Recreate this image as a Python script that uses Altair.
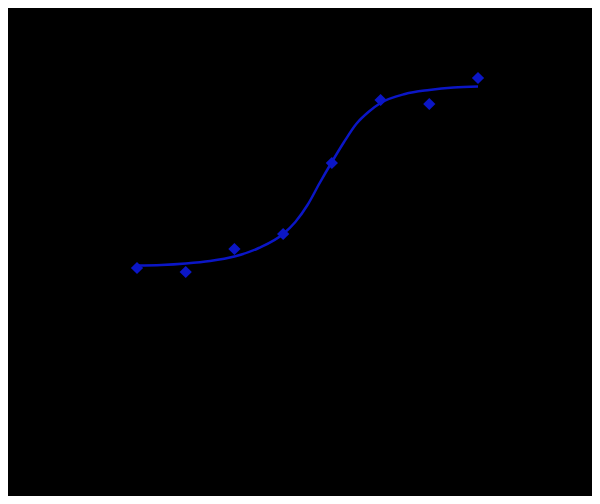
import altair as alt
import pandas as pd

# measured points (x = log concentration, y = response)
pt_x = [-9.0, -8.5, -8.0, -7.5, -7.0, -6.5, -6.0, -5.5]
pt_y = [1.14, 1.12, 1.235, 1.31, 1.665, 1.98, 1.96, 2.09]

# fitted curve
cv_x = [-9.0, -8.75, -8.5, -8.25, -8.0, -7.75, -7.5, -7.375, -7.25, -7.125,
        -7.0, -6.875, -6.75, -6.625, -6.5, -6.25, -6.0, -5.75, -5.5]
cv_y = [1.1525, 1.155, 1.1625, 1.175, 1.1975, 1.24, 1.31, 1.37, 1.455, 1.565,
        1.67, 1.77, 1.86, 1.92, 1.965, 2.01, 2.03, 2.0425, 2.0475]

pts = pd.DataFrame({"x": pt_x, "y": pt_y})
crv = pd.DataFrame({"x": cv_x, "y": cv_y})

xs = alt.Scale(domain=[-10.324, -4.330], nice=False, zero=False)
ys = alt.Scale(domain=[0, 2.44], nice=False, zero=False)
blue = "#0b16c6"

line = alt.Chart(crv).mark_line(color=blue, strokeWidth=2.5, interpolate="monotone").encode(
    x=alt.X("x:Q", scale=xs, axis=None),
    y=alt.Y("y:Q", scale=ys, axis=None),
)
points = alt.Chart(pts).mark_point(shape="diamond", filled=True, opacity=1, color=blue, size=150).encode(
    x=alt.X("x:Q", scale=xs, axis=None),
    y=alt.Y("y:Q", scale=ys, axis=None),
)

chart = (line + points).properties(
    width=584, height=488, background="black",
    autosize=alt.AutoSizeParams(type="none"), padding=0,
).configure_view(stroke=None)

chart.save("out.html", embed_options={"renderer": "svg", "actions": False})
